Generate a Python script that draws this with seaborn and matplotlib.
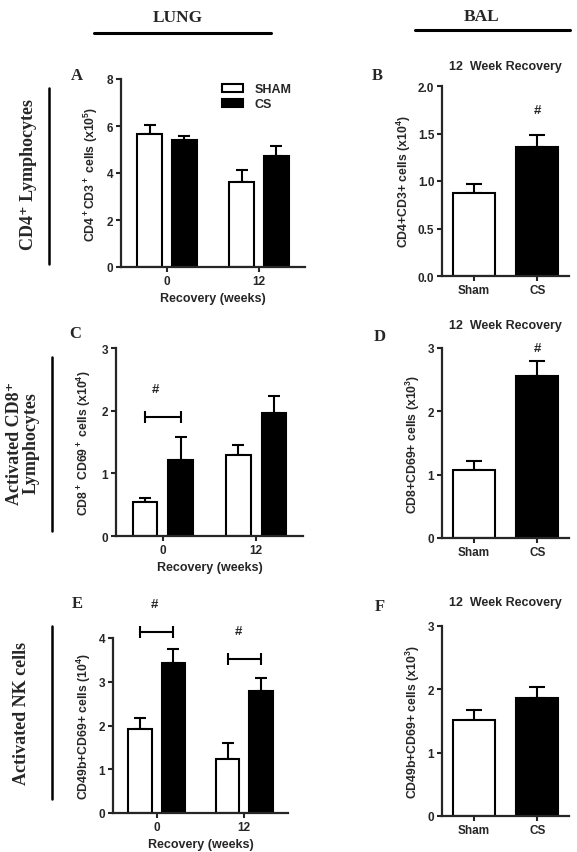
import pandas as pd
import seaborn as sns
import matplotlib
matplotlib.use("Agg")
import matplotlib.pyplot as plt
from matplotlib.lines import Line2D
from matplotlib.patches import Patch

# ---- values ----
weeks = ["0", "12"]
lung_groups = ["SHAM", "CS"]
bal_groups = ["Sham", "CS"]

# A: lung CD4+CD3+ (x10^5)
a_sham = [5.68, 3.62]
a_cs = [5.40, 4.72]
a_sham_err = [0.35, 0.51]
a_cs_err = [0.16, 0.43]

# B: BAL CD4+CD3+ (x10^4), 12 week recovery
b_vals = [0.87, 1.36]
b_err = [0.10, 0.12]

# C: lung CD8+CD69+ (x10^4)
c_sham = [0.54, 1.30]
c_cs = [1.21, 1.96]
c_sham_err = [0.07, 0.16]
c_cs_err = [0.37, 0.28]

# D: BAL CD8+CD69+ (x10^3)
d_vals = [1.08, 2.56]
d_err = [0.13, 0.23]

# E: lung CD49b+CD69+ (10^4)
e_sham = [1.92, 1.24]
e_cs = [3.44, 2.79]
e_sham_err = [0.25, 0.37]
e_cs_err = [0.32, 0.29]

# F: BAL CD49b+CD69+ (x10^3)
f_vals = [1.51, 1.87]
f_err = [0.17, 0.16]

# significance marks: (category index, y)
c_brackets = [(0, 1.90)]
c_hashes = [(-0.08, 2.34)]
e_brackets = [(0, 4.14), (1, 3.53)]
e_hashes = [(-0.03, 4.78), (0.93, 4.15)]
b_hashes = [(1, 1.75)]
d_hashes = [(1, 3.0)]

sns.set_style("ticks")
plt.rcParams["font.family"] = ["Liberation Sans", "DejaVu Sans"]
plt.rcParams["font.weight"] = "bold"
plt.rcParams["axes.labelweight"] = "bold"
plt.rcParams["mathtext.fontset"] = "custom"
plt.rcParams["mathtext.rm"] = "Liberation Sans:bold"
plt.rcParams["mathtext.it"] = "Liberation Sans:bold"
plt.rcParams["mathtext.bf"] = "Liberation Sans:bold"
plt.rcParams["mathtext.default"] = "rm"

W, H = 577, 853
fig = plt.figure(figsize=(W / 100, H / 100), dpi=100)
serif = ["Liberation Serif", "DejaVu Serif"]

lung_pal = {"SHAM": "white", "CS": "black"}
bal_pal = {"Sham": "white", "CS": "black"}


def add_ax(l, t, r, b):
    return fig.add_axes([l / W, 1 - b / H, (r - l) / W, (b - t) / H])


def ftxt(x, y, s, **kw):
    fig.text(x / W, 1 - y / H, s, **kw)


def fline(x1, y1, x2, y2, lw):
    fig.add_artist(Line2D([x1 / W, x2 / W], [1 - y1 / H, 1 - y2 / H],
                          transform=fig.transFigure, color="black", lw=lw))


def add_err(ax, df, capsize):
    xs, ys, es = [], [], []
    for p in ax.patches:
        h = p.get_height()
        row = df.loc[(df["value"] - h).abs().idxmin()]
        xs.append(p.get_x() + p.get_width() / 2)
        ys.append(h)
        es.append(row["err"])
    ax.errorbar(xs, ys, yerr=[[0] * len(es), es], fmt="none", ecolor="black",
                elinewidth=1.5, capsize=capsize, capthick=1.5, zorder=0.5)


def style_ax(ax, ymax, ticks, ylabel, label_x):
    ax.set_ylim(0, ymax)
    ax.set_xlim(-0.5, 1.5)
    ax.set_yticks(ticks)
    sns.despine(ax=ax)
    for s in ax.spines.values():
        s.set_linewidth(1.6)
    ax.tick_params(axis="both", width=1.5, length=3.5, labelsize=8.5, pad=2)
    ax.set_ylabel(ylabel, fontsize=8.8)
    ax.yaxis.set_label_coords(label_x, 0.5)


def lung_panel(ax, sham, cs, sham_err, cs_err, ymax, ticks, ylabel, label_x):
    df = pd.DataFrame({
        "week": weeks * 2,
        "group": ["SHAM"] * 2 + ["CS"] * 2,
        "value": sham + cs,
        "err": sham_err + cs_err,
    })
    sns.barplot(data=df, x="week", y="value", hue="group", hue_order=lung_groups,
                palette=lung_pal, edgecolor="black", linewidth=1.5, width=0.76,
                gap=0.3, errorbar=None, legend=False, ax=ax)
    add_err(ax, df, 4.5)
    style_ax(ax, ymax, ticks, ylabel, label_x)
    ax.set_xlabel("Recovery (weeks)", fontsize=9, labelpad=4)


def bal_panel(ax, vals, err, ymax, ticks, ylabel, label_x):
    df = pd.DataFrame({"group": bal_groups, "value": vals, "err": err})
    sns.barplot(data=df, x="group", y="value", hue="group", palette=bal_pal,
                edgecolor="black", linewidth=1.5, width=0.66, errorbar=None,
                legend=False, ax=ax)
    add_err(ax, df, 5.5)
    style_ax(ax, ymax, ticks, ylabel, label_x)
    ax.set_xlabel("")


def brackets(ax, marks):
    for x, y in marks:
        eb = ax.errorbar([x], [y], xerr=0.19, fmt="none", ecolor="black",
                         elinewidth=1.5, capsize=4, capthick=1.5)
        for art in eb.get_children():
            art.set_clip_on(False)


def hashes(ax, marks):
    for x, y in marks:
        ax.text(x, y, "#", ha="center", va="center", fontsize=9.5,
                fontweight="bold", clip_on=False)


# ---- panels ----
axA = add_ax(121, 80, 305, 268)
lung_panel(axA, a_sham, a_cs, a_sham_err, a_cs_err, 8, [0, 2, 4, 6, 8],
           "CD4$^+$CD3$^+$ cells (x10$^5$)", -0.115)
axA.legend(handles=[Patch(facecolor="white", edgecolor="black", lw=1.5, label="SHAM"),
                    Patch(facecolor="black", edgecolor="black", lw=1.5, label="CS")],
           loc="upper left", bbox_to_anchor=(222 / W, 1 - 84 / H),
           bbox_transform=fig.transFigure, frameon=False, borderpad=0,
           borderaxespad=0, handlelength=1.7, handleheight=0.6,
           handletextpad=0.9, labelspacing=0.25, prop={"size": 9, "weight": "bold"})

axB = add_ax(442, 87, 569, 277)
bal_panel(axB, b_vals, b_err, 2.0, [0, 0.5, 1.0, 1.5, 2.0],
          "CD4+CD3+ cells (x10$^4$)", -0.23)
hashes(axB, b_hashes)

axC = add_ax(116, 349, 303, 537)
lung_panel(axC, c_sham, c_cs, c_sham_err, c_cs_err, 3, [0, 1, 2, 3],
           "CD8$^+$ CD69$^+$ cells (x10$^4$)", -0.125)
brackets(axC, c_brackets)
hashes(axC, c_hashes)

axD = add_ax(442, 349, 569, 539)
bal_panel(axD, d_vals, d_err, 3, [0, 1, 2, 3],
          "CD8+CD69+ cells (x10$^3$)", -0.155)
hashes(axD, d_hashes)

axE = add_ax(113, 639, 288, 814)
lung_panel(axE, e_sham, e_cs, e_sham_err, e_cs_err, 4, [0, 1, 2, 3, 4],
           "CD49b+CD69+ cells (10$^4$)", -0.115)
brackets(axE, e_brackets)
hashes(axE, e_hashes)

axF = add_ax(442, 627, 569, 817)
bal_panel(axF, f_vals, f_err, 3, [0, 1, 2, 3],
          "CD49b+CD69+ cells (x10$^3$)", -0.155)

# ---- headers, letters, titles, row labels ----
ftxt(178, 18, "LUNG", family=serif, fontsize=12.5, fontweight="bold", ha="center", va="center")
fline(94, 34, 271, 34, 2.2)
ftxt(482, 17, "BAL", family=serif, fontsize=12.5, fontweight="bold", ha="center", va="center")
fline(415, 31, 570, 31, 2.2)

for x, y, s in [(77, 76, "A"), (377, 76, "B"), (75, 334, "C"),
                (380, 337, "D"), (77, 604, "E"), (380, 607, "F")]:
    ftxt(x, y, s, family=serif, fontsize=12, fontweight="bold", ha="center", va="center")

for y in [67, 326, 603]:
    ftxt(505, y, "12  Week Recovery", fontsize=9, fontweight="bold", ha="center", va="center")

ftxt(29, 175, "CD4\u207a Lymphocytes", family=serif, fontsize=13, fontweight="bold",
     rotation=90, ha="center", va="center")
ftxt(23, 443, "Activated CD8\u207a\nLymphocytes", family=serif, fontsize=13,
     fontweight="bold", rotation=90, ha="center", va="center", multialignment="center",
     linespacing=1.0)
ftxt(22, 713, "Activated NK cells", family=serif, fontsize=13, fontweight="bold",
     rotation=90, ha="center", va="center")
fline(49, 89, 49, 265, 1.8)
fline(52, 358, 52, 532, 1.8)
fline(52, 627, 52, 800, 1.8)

fig.savefig("out.png", dpi=100)
